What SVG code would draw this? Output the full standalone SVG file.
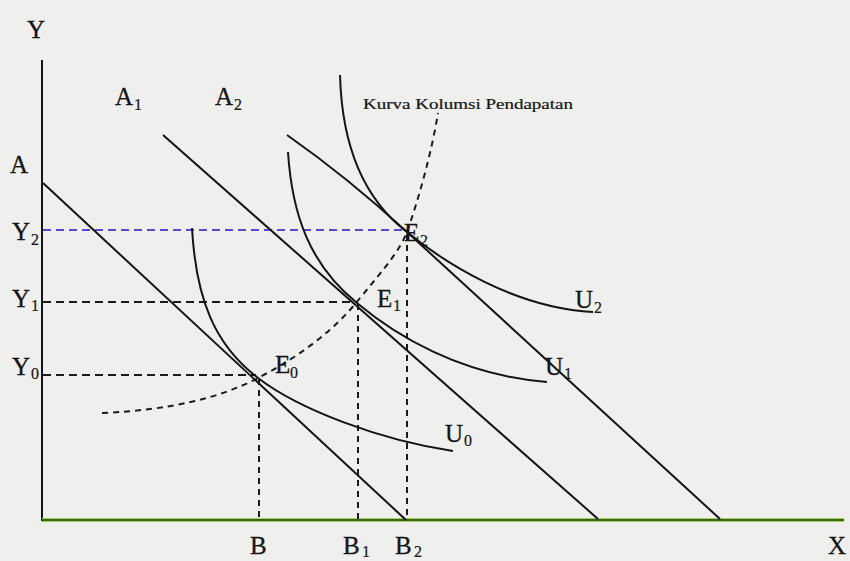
<svg xmlns="http://www.w3.org/2000/svg" width="850" height="561" viewBox="0 0 850 561">
<style>
.t{font-family:"Liberation Serif","Times New Roman",serif;font-size:25px;fill:#151515;stroke:#151515;stroke-width:0.3}
.s{font-family:"Liberation Serif","Times New Roman",serif;font-size:16px;fill:#151515;stroke:#151515;stroke-width:0.2}
.ln{fill:none;stroke:#141414;stroke-width:2}
.cv{fill:none;stroke:#141414;stroke-width:2}
.dh{fill:none;stroke:#1a1a1a;stroke-width:2;stroke-dasharray:8 5}
.dv{fill:none;stroke:#1a1a1a;stroke-width:2;stroke-dasharray:6 5}
</style>
<rect width="850" height="561" fill="#efefed"/>
<g id="axes">
<line x1="42" y1="60" x2="42" y2="521" stroke="#141414" stroke-width="2"/>
<line x1="42" y1="520" x2="844" y2="520" stroke="#9fd44a" stroke-width="4"/>
<line x1="42" y1="520" x2="844" y2="520" stroke="#1e3d18" stroke-width="1.6"/>
<text class="t" x="27" y="38">Y</text>
<text class="t" x="828" y="554">X</text>
</g>
<g id="guides">
<line class="dh" x1="43" y1="230" x2="404" y2="230" style="stroke:#5b48cf"/>
<line class="dh" x1="43" y1="302" x2="356" y2="302"/>
<line class="dh" x1="43" y1="375" x2="256" y2="375"/>
<line class="dv" x1="259" y1="379" x2="259" y2="520"/>
<line class="dv" x1="358" y1="304" x2="358" y2="520"/>
<line class="dv" x1="407" y1="234" x2="407" y2="520"/>
<path class="dv" d="M102,413 C170,410 220,398 258,378 C300,356 335,330 360,298 C385,268 400,250 407,232 C420,195 432,150 438,113"/>
</g>
<g id="budget-lines">
<line class="ln" x1="43" y1="183" x2="406" y2="520"/>
<line class="ln" x1="163" y1="135" x2="598" y2="519"/>
<path class="ln" d="M287,135 Q347,177 407,232 L720,519"/>
</g>
<g id="indifference-curves">
<path class="cv" d="M192,228 C196,300 215,345 258,378 C300,410 380,440 453,451"/>
<path class="cv" d="M288,152 C292,215 310,265 357,303 C395,335 460,375 547,382"/>
<path class="cv" d="M340,75 C342,150 365,200 407,232 C445,263 515,308 593,312"/>
</g>
<g id="labels">
<text class="t" x="10" y="173">A</text>
<text class="t" x="115" y="105">A</text><text class="s" x="134" y="110">1</text>
<text class="t" x="215" y="105">A</text><text class="s" x="234" y="110">2</text>
<text x="363" y="109" textLength="210" lengthAdjust="spacingAndGlyphs" style="font-family:'Liberation Serif','Times New Roman',serif;font-size:14px;fill:#151515;stroke:#151515;stroke-width:0.2">Kurva Kolumsi Pendapatan</text>
<text class="t" x="12" y="240">Y</text><text class="s" x="31" y="245">2</text>
<text class="t" x="12" y="307">Y</text><text class="s" x="31" y="311">1</text>
<text class="t" x="12" y="375">Y</text><text class="s" x="31" y="379">0</text>
<text class="t" x="275" y="373">E</text><text class="s" x="290" y="378">0</text>
<text class="t" x="377" y="307">E</text><text class="s" x="393" y="311">1</text>
<text class="t" x="404" y="241">E</text><text class="s" x="420" y="246">2</text>
<text class="t" x="445" y="442">U</text><text class="s" x="464" y="446">0</text>
<text class="t" x="545" y="375">U</text><text class="s" x="564" y="379">1</text>
<text class="t" x="575" y="308">U</text><text class="s" x="594" y="313">2</text>
<text class="t" x="250" y="554">B</text>
<text class="t" x="343" y="554">B</text><text class="s" x="362" y="557">1</text>
<text class="t" x="395" y="554">B</text><text class="s" x="414" y="557">2</text>
</g>
</svg>
